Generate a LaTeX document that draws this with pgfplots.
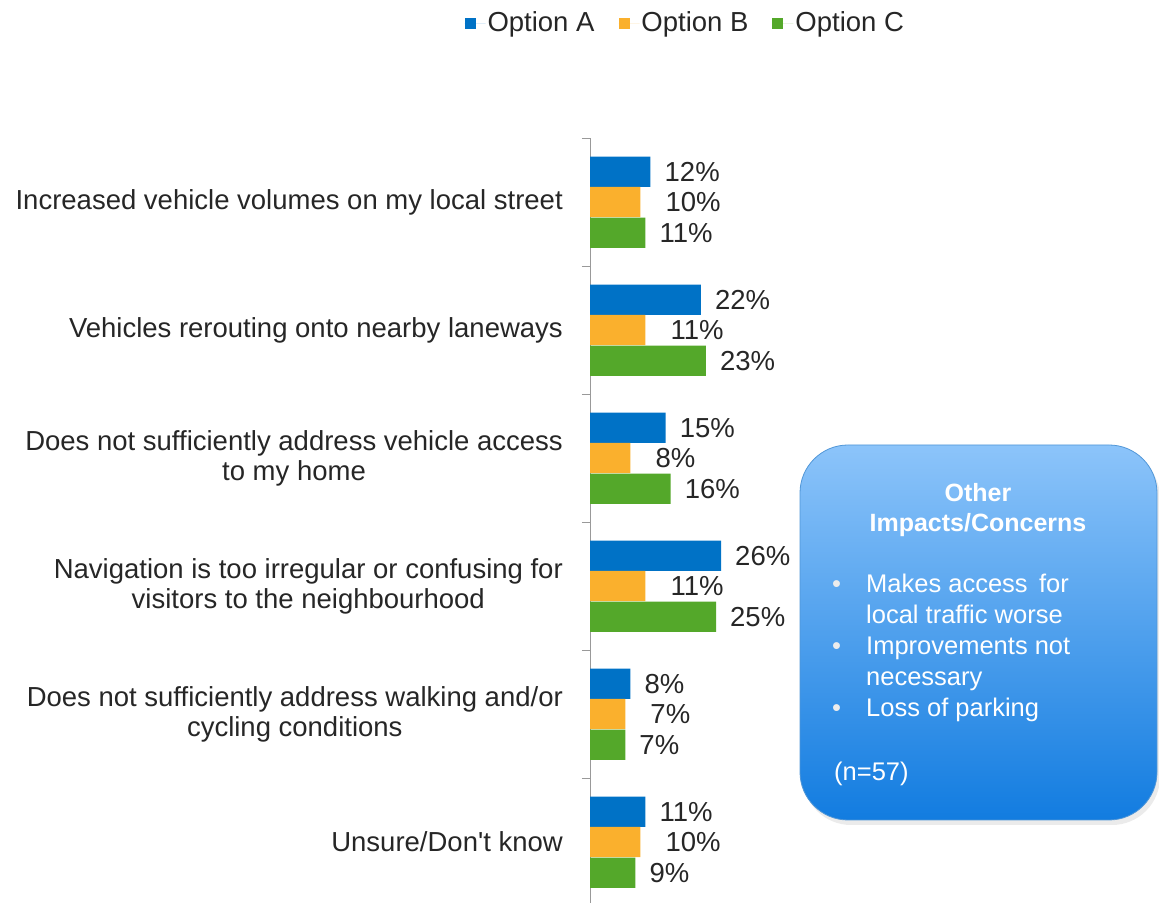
\documentclass[border=0pt]{standalone}
\usepackage{fontspec}
\setmainfont{Liberation Sans}[Ligatures=TeXOff]
\usepackage{pgfplots}
\pgfplotsset{compat=1.18}
\definecolor{cA}{RGB}{0,114,198}
\definecolor{cB}{RGB}{250,176,45}
\definecolor{cC}{RGB}{84,168,42}
\definecolor{txt}{RGB}{38,38,38}
\definecolor{boxtop}{RGB}{140,196,250}
\definecolor{boxbot}{RGB}{18,124,224}
\definecolor{boxedge}{RGB}{80,150,215}
\begin{document}
\fontsize{27.5bp}{30bp}\selectfont
\begin{tikzpicture}
\path[use as bounding box] (0,0) rectangle (1159bp,903bp);
\begin{axis}[
  at={(590bp,-3bp)}, anchor=south west,
  scale only axis, width=151.2bp, height=768bp,
  xmin=0, xmax=30, ymin=-0.5, ymax=5.5, y dir=reverse,
  axis x line=none, axis y line=left,
  y axis line style={-, draw=gray!80},
  ytick={0,1,2,3,4,5},
  yticklabels={
    {Increased vehicle volumes on my local street},
    {Vehicles rerouting onto nearby laneways},
    {Does not sufficiently address vehicle access\\to my home},
    {Navigation is too irregular or confusing for\\visitors to the neighbourhood},
    {Does not sufficiently address walking and/or\\cycling conditions},
    {Unsure/Don't know}},
  major tick length=0pt,
  minor ytick={-0.5,0.5,1.5,2.5,3.5,4.5,5.5},
  minor tick length=8bp, tick align=outside,
  tick style={draw=gray!80},
  yticklabel style={align=center, inner sep=0pt, xshift=-27bp, text=txt,
    font=\fontsize{27.5bp}{30bp}\selectfont},
  clip=false,
  /pgf/number format/assume math mode=true,
  legend columns=3,
  legend style={at={(0.63,1.149)}, anchor=center, draw=none, fill=none,
    font=\fontsize{27.5bp}{30bp}\selectfont, text=txt,
    /tikz/every even column/.append style={column sep=22bp}},
  every node near coord/.append style={anchor=west, inner sep=0pt, text=txt,
    font=\fontsize{27.5bp}{30bp}\selectfont},
]
\addplot[xbar, bar width=0.236, fill=cA, draw=none,
  nodes near coords={\pgfmathprintnumber{\pgfplotspointmeta}\%},
  every node near coord/.append style={xshift=14bp},
  legend image code/.code={\fill[cA] (0bp,-5.5bp) rectangle (11bp,5.5bp); \path (0bp,0bp) -- (21bp,0bp);}]
  coordinates {(12,-0.236) (22,0.764) (15,1.764) (26,2.764) (8,3.764) (11,4.764)};
\addplot[xbar, bar width=0.236, fill=cB, draw=none,
  nodes near coords={\pgfmathprintnumber{\pgfplotspointmeta}\%},
  every node near coord/.append style={xshift=25bp},
  legend image code/.code={\fill[cB] (0bp,-5.5bp) rectangle (11bp,5.5bp); \path (0bp,0bp) -- (21bp,0bp);}]
  coordinates {(10,0) (11,1) (8,2) (11,3) (7,4) (10,5)};
\addplot[xbar, bar width=0.236, fill=cC, draw=none,
  nodes near coords={\pgfmathprintnumber{\pgfplotspointmeta}\%},
  every node near coord/.append style={xshift=14bp},
  legend image code/.code={\fill[cC] (0bp,-5.5bp) rectangle (11bp,5.5bp); \path (0bp,0bp) -- (21bp,0bp);}]
  coordinates {(11,0.24) (23,1.24) (16,2.24) (25,3.24) (7,4.24) (9,5.24)};
\legend{Option A, Option B, Option C}
\end{axis}
% callout box
\fill[black, opacity=0.08, rounded corners=48bp] (803bp,78bp) rectangle (1160bp,453bp);
\draw[draw=boxedge, line width=0.8bp, rounded corners=48bp, top color=boxtop, bottom color=boxbot]
  (800bp,83bp) rectangle (1157bp,458bp);
\node[font=\fontsize{25bp}{30bp}\selectfont\bfseries, text=white, align=center]
  at (978bp,393bp) {Other\\Impacts/Concerns};
\begin{scope}[every node/.style={anchor=mid west, inner sep=0pt, text=white,
    font=\fontsize{25.5bp}{30bp}\selectfont}]
  \node[text=white!85!gray] at (832bp,318bp) {•};
  \node at (866bp,318bp) {Makes access\, for};
  \node at (866bp,287bp) {local traffic worse};
  \node[text=white!85!gray] at (832bp,256bp) {•};
  \node at (866bp,256bp) {Improvements not};
  \node at (866bp,225bp) {necessary};
  \node[text=white!85!gray] at (832bp,194bp) {•};
  \node at (866bp,194bp) {Loss of parking};
  \node at (834bp,130bp) {(n=57)};
\end{scope}
\end{tikzpicture}
\end{document}
